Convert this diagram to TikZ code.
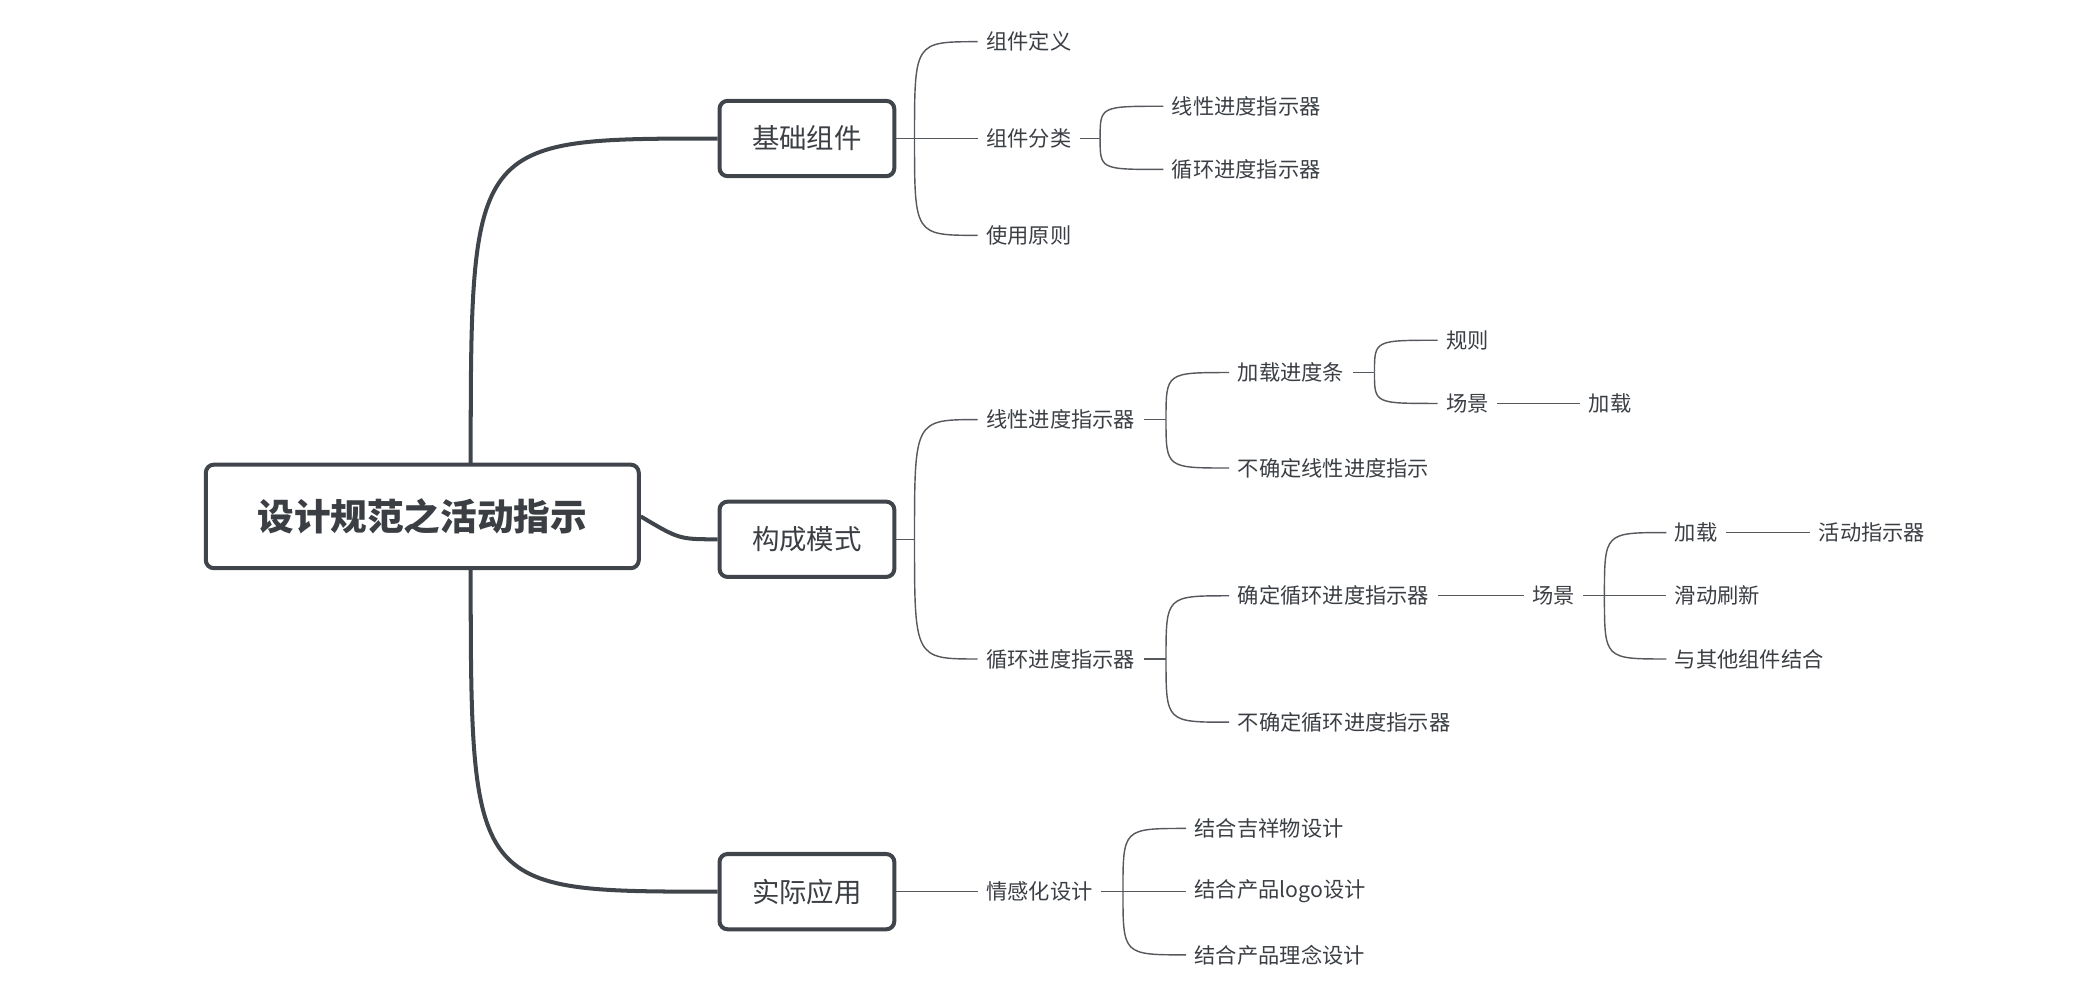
\documentclass[tikz,border=0pt]{standalone}
\usepackage{fontspec}
\setmainfont{Noto Sans CJK SC}
\usetikzlibrary{positioning}
\definecolor{boxgray}{RGB}{64,69,75}
\definecolor{txtgray}{RGB}{59,63,68}
\definecolor{linegray}{RGB}{85,88,92}
\begin{document}
\begin{tikzpicture}[x=0.02cm,y=-0.02cm,
  root/.style={rectangle,draw=boxgray,line width=1.7pt,rounded corners=0.12cm,fill=white,
    minimum width=6.44cm,minimum height=1.54cm,text=txtgray,font=\fontsize{15.5}{18}\selectfont\bfseries},
  main/.style={rectangle,draw=boxgray,line width=1.7pt,rounded corners=0.12cm,fill=white,
    minimum width=2.6cm,minimum height=1.12cm,text=txtgray,font=\fontsize{11.6}{14}\selectfont},
  leaf/.style={anchor=west,inner xsep=0.12cm,inner ysep=0.05cm,text=txtgray,font=\fontsize{9}{11}\selectfont},
  thick line/.style={draw=boxgray,line width=1.7pt},
  thin line/.style={draw=linegray,line width=0.6pt},
]
\useasboundingbox (0,0) rectangle (1560,730);

% main boxes
\node[root] (root) at (314,384) {设计规范之活动指示};
\node[main] (base) at (600,103) {基础组件};
\node[main] (mode) at (600,401) {构成模式};
\node[main] (appl) at (600,663) {实际应用};

\coordinate (rtop) at (350,345);
\coordinate (rbot) at (350,422);
\draw[thick line] (rtop) .. controls (rtop|-base.west) .. (base.west);
\draw[thick line] (rbot) .. controls (rbot|-appl.west) .. (appl.west);
\draw[thick line] (root.east) .. controls (505,401) .. (mode.west);

% basic components
\node[leaf] (def) at (727,31) {组件定义};
\node[leaf] (cls) at (727,103) {组件分类};
\node[leaf] (use) at (727,175) {使用原则};
\coordinate (f1) at (680,103);
\draw[thin line] (base.east) -- (f1);
\foreach \c in {def,cls,use}
  \draw[thin line] (f1) .. controls (f1|-\c.west) .. (\c.west);

\node[leaf] (lin1) at (865,79) {线性进度指示器};
\node[leaf] (cyc1) at (865,126) {循环进度指示器};
\coordinate (f11) at (818,103);
\draw[thin line] (cls.east) -- (f11);
\foreach \c in {lin1,cyc1}
  \draw[thin line] (f11) .. controls (f11|-\c.west) .. (\c.west);

% composition
\node[leaf] (lin2) at (727,312) {线性进度指示器};
\node[leaf] (cyc2) at (727,490) {循环进度指示器};
\coordinate (f2) at (680,401);
\draw[thin line] (mode.east) -- (f2);
\foreach \c in {lin2,cyc2}
  \draw[thin line] (f2) .. controls (f2|-\c.west) .. (\c.west);

\node[leaf] (bar) at (914,277) {加载进度条};
\node[leaf] (indl) at (914,348) {不确定线性进度指示};
\coordinate (f21) at (867,312);
\draw[thin line] (lin2.east) -- (f21);
\foreach \c in {bar,indl}
  \draw[thin line] (f21) .. controls (f21|-\c.west) .. (\c.west);

\node[leaf] (rule) at (1069,253) {规则};
\node[leaf] (scn1) at (1069,300) {场景};
\coordinate (f211) at (1022,277);
\draw[thin line] (bar.east) -- (f211);
\foreach \c in {rule,scn1}
  \draw[thin line] (f211) .. controls (f211|-\c.west) .. (\c.west);
\node[leaf] (load1) at (1175,300) {加载};
\draw[thin line] (scn1.east) -- (load1.west);

\node[leaf] (det) at (914,443) {确定循环进度指示器};
\node[leaf] (indc) at (914,537) {不确定循环进度指示器};
\coordinate (f22) at (867,490);
\draw[thin line] (cyc2.east) -- (f22);
\foreach \c in {det,indc}
  \draw[thin line] (f22) .. controls (f22|-\c.west) .. (\c.west);

\node[leaf] (scn2) at (1133,443) {场景};
\draw[thin line] (det.east) -- (scn2.west);
\node[leaf] (load2) at (1239,396) {加载};
\node[leaf] (swipe) at (1239,443) {滑动刷新};
\node[leaf] (comb) at (1239,490) {与其他组件结合};
\coordinate (f221) at (1193,443);
\draw[thin line] (scn2.east) -- (f221);
\foreach \c in {load2,swipe,comb}
  \draw[thin line] (f221) .. controls (f221|-\c.west) .. (\c.west);
\node[leaf] (act) at (1346,396) {活动指示器};
\draw[thin line] (load2.east) -- (act.west);

% application
\node[leaf] (emo) at (727,663) {情感化设计};
\draw[thin line] (appl.east) -- (emo.west);
\node[leaf] (mas) at (882,616) {结合吉祥物设计};
\node[leaf] (logo) at (882,663) {结合产品logo设计};
\node[leaf] (idea) at (882,710) {结合产品理念设计};
\coordinate (f3) at (835,663);
\draw[thin line] (emo.east) -- (f3);
\foreach \c in {mas,logo,idea}
  \draw[thin line] (f3) .. controls (f3|-\c.west) .. (\c.west);
\end{tikzpicture}
\end{document}
